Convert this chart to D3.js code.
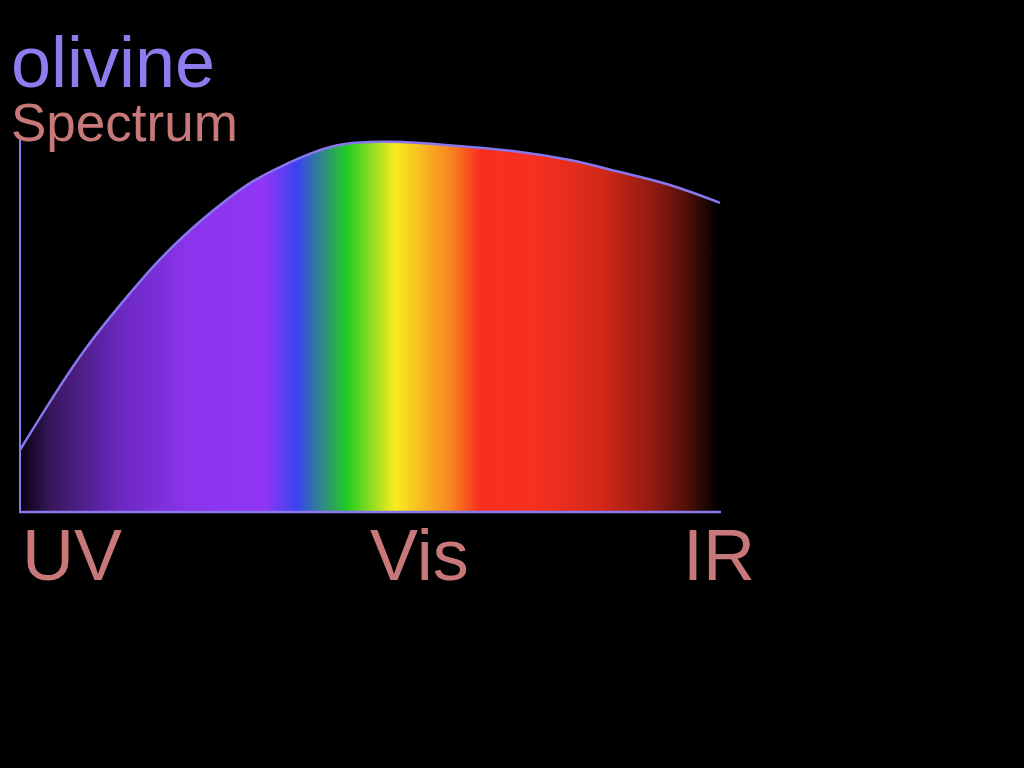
<!DOCTYPE html>
<html>
<head>
<meta charset="utf-8">
<script src="https://cdn.jsdelivr.net/npm/d3@7"></script>
<style>
html,body{margin:0;padding:0;background:#000;}
svg{display:block;}
</style>
</head>
<body>
<svg id="chart" width="1024" height="768"></svg>
<script>
// Data: wavelength-like positions and relative intensity
const wavelengths = [300, 333, 367, 400, 433, 467, 500, 530, 562, 595, 625, 660, 700, 750, 800, 850, 900, 950, 1000];
const intensity   = [16.7, 30.9, 44.4, 55.6, 65.9, 75.0, 82.5, 88.4, 93.0, 96.8, 98.9, 99.5, 99.2, 98.1, 96.8, 94.6, 91.4, 87.9, 83.1];
const bandLabels = ["UV", "Vis", "IR"];
const bandPositions = [302, 650, 963];
const titleText = "olivine";
const subtitleText = "Spectrum";
// spectrum gradient stops (wavelength, colour)
const stopWavelengths = [300, 333, 400, 467, 545, 577, 627, 675, 733, 760, 820, 883, 933, 967, 998];
const stopColors = ["#08030f", "#3a1860", "#6a28c0", "#8a34ec", "#9035f5", "#3a44f0", "#22cc22", "#f8ec20", "#f88020", "#fa2e20", "#f63020", "#d02818", "#901a12", "#501008", "#000000"];

const svg = d3.select("#chart");
svg.append("rect").attr("width", 1024).attr("height", 768).attr("fill", "#000");

const x = d3.scaleLinear().domain([300, 1000]).range([20, 720]);
const y = d3.scaleLinear().domain([0, 100]).range([512, 140]);

const data = wavelengths.map((w, i) => ({w, v: intensity[i]}));

const defs = svg.append("defs");
const grad = defs.append("linearGradient")
  .attr("id", "spec")
  .attr("gradientUnits", "userSpaceOnUse")
  .attr("x1", x(300)).attr("x2", x(1000))
  .attr("y1", 0).attr("y2", 0);
grad.selectAll("stop").data(stopWavelengths).enter().append("stop")
  .attr("offset", d => (d - 300) / 700)
  .attr("stop-color", (d, i) => stopColors[i]);

const area = d3.area()
  .x(d => x(d.w))
  .y0(y(0))
  .y1(d => y(d.v))
  .curve(d3.curveNatural);

const line = d3.line()
  .x(d => x(d.w))
  .y(d => y(d.v))
  .curve(d3.curveNatural);

svg.append("path").datum(data).attr("d", area).attr("fill", "url(#spec)");
svg.append("path").datum(data).attr("d", line)
  .attr("fill", "none").attr("stroke", "#8877ee").attr("stroke-width", 2.5);

// axes
svg.append("line")
  .attr("x1", x(300)).attr("x2", x(300))
  .attr("y1", y(100.8)).attr("y2", y(0) + 1)
  .attr("stroke", "#8877ee").attr("stroke-width", 2);
svg.append("line")
  .attr("x1", x(300) - 1).attr("x2", x(1001))
  .attr("y1", y(0)).attr("y2", y(0))
  .attr("stroke", "#8877ee").attr("stroke-width", 2.5);

// titles
svg.append("text").text(titleText)
  .attr("x", 11).attr("y", 87)
  .attr("font-family", "Liberation Sans, Arial, sans-serif")
  .attr("font-size", 72).attr("fill", "#8f7af0");
svg.append("text").text(subtitleText)
  .attr("x", 11).attr("y", 141)
  .attr("font-family", "Liberation Sans, Arial, sans-serif")
  .attr("font-size", 53).attr("fill", "#c87878");

// band labels
svg.selectAll(".band").data(bandLabels).enter().append("text")
  .attr("class", "band")
  .text(d => d)
  .attr("x", (d, i) => x(bandPositions[i]))
  .attr("y", 580)
  .attr("font-family", "Liberation Sans, Arial, sans-serif")
  .attr("font-size", 72).attr("fill", "#c87878");
</script>
</body>
</html>
